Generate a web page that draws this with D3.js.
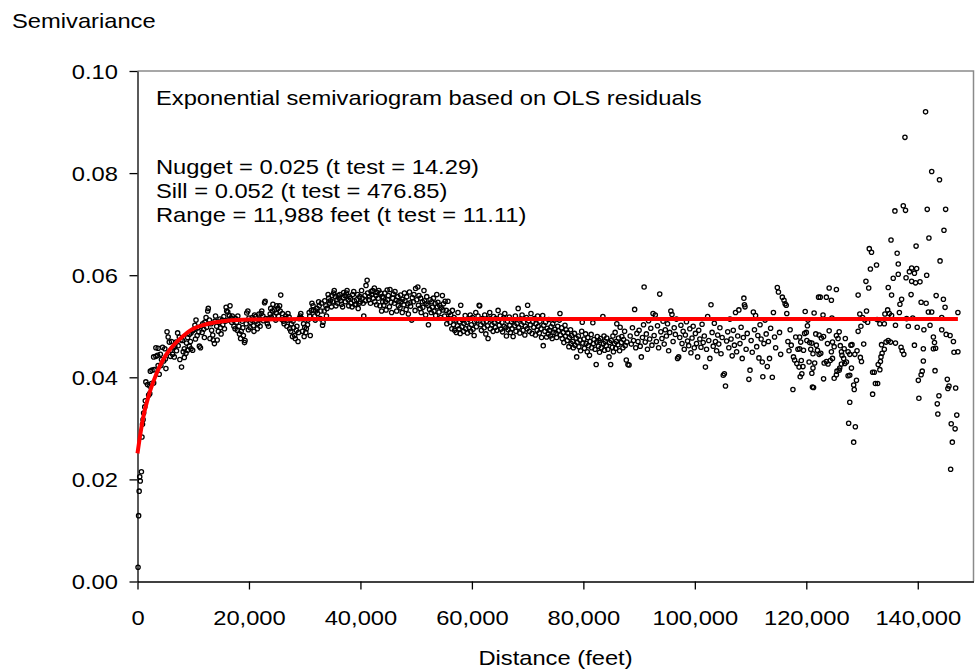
<!DOCTYPE html>
<html>
<head>
<meta charset="utf-8">
<script src="https://cdn.jsdelivr.net/npm/d3@7"></script>
<style>
    body { margin: 0; background: #fff; }
    svg text { font-family: "Liberation Sans", Arial, sans-serif; fill: #000; }
</style>
</head>
<body>
<div id="chart"></div>
<script>
// Empirical semivariogram, [distance in thousand feet, semivariance]
const nearLags = [
    [0.1,.0028],[0.2,.0129],[0.3,.0177],[0.4,.0205],[0.5,.0197],[0.7,.0215],[0.8,.0283],[0.9,.0308],[1.0,.0317],[1.1,.0330],
    [1.3,.0342],[1.4,.0354],[1.5,.0391],[1.8,.0386],[2.0,.0365],[2.2,.0368],[2.2,.0383],[2.3,.0412],[2.5,.0388],[2.6,.0414],
    [2.9,.0389],[2.9,.0440],[3.0,.0415],[3.3,.0441],[3.3,.0458],[3.6,.0443],[3.7,.0423],[3.7,.0457],[3.9,.0406],[4.1,.0445],
    [4.2,.0423],[4.3,.0435],[4.5,.0459],[4.7,.0432],[4.9,.0456],[5.0,.0436],[5.1,.0417],[5.3,.0489],[5.5,.0479],[5.7,.0469],
    [5.9,.0441],[6.0,.0453],[6.1,.0470],[6.3,.0445],[6.4,.0458],[6.6,.0440],[6.7,.0461],[6.9,.0469],[7.0,.0452],[7.2,.0487],
    [7.3,.0462],[7.5,.0479],[7.6,.0435],[7.8,.0473],[7.9,.0420],[8.1,.0472],[8.2,.0450],[8.4,.0456],[8.4,.0439],[8.7,.0447],
    [8.8,.0467],[9.0,.0453],[9.0,.0478],[9.3,.0461],[9.3,.0484],[9.5,.0470],[9.6,.0456],[9.6,.0487],[9.9,.0453],[9.9,.0491]
];
const risingLags = [
    [10.1,.0493],[10.3,.0502],[10.4,.0475],[10.5,.0512],[10.7,.0482],[10.8,.0497],[11.0,.0489],
    [11.1,.0461],[11.3,.0458],[11.4,.0500],[11.6,.0488],[11.7,.0505],[11.9,.0494],[12.0,.0478],
    [12.1,.0508],[12.3,.0517],[12.4,.0498],[12.6,.0530],[12.7,.0535],[12.9,.0512],[13.0,.0476],
    [13.2,.0505],[13.3,.0492],[13.5,.0483],[13.6,.0473],[13.8,.0466],[13.9,.0510],[14.0,.0520],
    [14.2,.0500],[14.3,.0473],[14.5,.0490],[14.6,.0508],[14.8,.0514],[14.9,.0497],[15.0,.0485],
    [15.2,.0512],[15.3,.0503],[15.5,.0519],[15.6,.0495],[15.8,.0510],[15.9,.0537],[16.0,.0530],
    [16.2,.0528],[16.3,.0512],[16.5,.0521],[16.6,.0540],[16.8,.0516],[16.9,.0508],[17.0,.0520],
    [17.2,.0512],[17.3,.0500],[17.5,.0495],[17.6,.0515],[17.8,.0508],[17.9,.0492],[18.0,.0520],
    [18.2,.0500],[18.3,.0485],[18.5,.0476],[18.6,.0490],[18.8,.0510],[18.9,.0497],[19.0,.0482],
    [19.2,.0468],[19.3,.0472],[19.5,.0505],[19.6,.0526],[19.8,.0530],[19.9,.0493],[20.0,.0516],
    [20.2,.0497],[20.3,.0508],[20.5,.0512],[20.6,.0517],[20.8,.0501],[20.9,.0490],[21.0,.0522],
    [21.2,.0519],[21.3,.0510],[21.5,.0495],[21.6,.0505],[21.8,.0524],[21.9,.0513],[22.0,.0500],
    [22.2,.0525],[22.3,.0530],[22.5,.0520],[22.6,.0511],[22.8,.0546],[22.9,.0549],[23.0,.0515],
    [23.2,.0512],[23.3,.0505],[23.5,.0500],[23.6,.0515],[23.8,.0524],[23.9,.0535],[24.0,.0518],
    [24.2,.0530],[24.3,.0543],[24.5,.0520],[24.6,.0532],[24.8,.0512],[24.9,.0526],[25.0,.0540],
    [25.2,.0535],[25.3,.0520],[25.5,.0540],[25.6,.0530],[25.7,.0561],[25.9,.0513],[26.0,.0525],
    [26.2,.0510],[26.3,.0505],[26.5,.0515],[26.6,.0520],[26.8,.0500],[26.9,.0512],[27.0,.0525],
    [27.2,.0518],[27.3,.0495],[27.5,.0490],[27.6,.0505],[27.8,.0480],[27.9,.0510],[28.0,.0497],
    [28.2,.0482],[28.3,.0476],[28.5,.0492],[28.6,.0500],[28.8,.0470],[28.9,.0488],[29.0,.0515],
    [29.2,.0520],[29.3,.0525],[29.5,.0515],[29.6,.0490],[29.8,.0505],[29.9,.0480],[30.0,.0498],
    [30.2,.0488],[30.3,.0495],[30.5,.0503],[30.6,.0512],[30.8,.0527],[30.9,.0520],[31.0,.0482],
    [31.2,.0531],[31.3,.0545],[31.5,.0540],[31.6,.0532],[31.8,.0520],[31.9,.0512],[32.0,.0530],
    [32.2,.0535],[32.3,.0525],[32.5,.0548],[32.6,.0540],[32.8,.0515],[32.9,.0530],[33.0,.0545],
    [33.2,.0502],[33.3,.0508],[33.5,.0530],[33.6,.0550],[33.8,.0540],[33.9,.0520],[34.0,.0535],
    [34.2,.0562],[34.3,.0555],[34.5,.0545],[34.6,.0550],[34.8,.0538],[34.9,.0560],[35.0,.0548],
    [35.2,.0565],[35.3,.0570],[35.5,.0558],[35.6,.0540],[35.8,.0552],[35.9,.0545],[36.0,.0560],
    [36.2,.0555],[36.3,.0562],[36.5,.0550],[36.6,.0543],[36.8,.0538],[36.9,.0556],[37.0,.0566],
    [37.2,.0560],[37.3,.0548],[37.5,.0565],[37.6,.0570],[37.8,.0552],[37.9,.0540],[38.0,.0558],
    [38.2,.0555],[38.3,.0545],[38.5,.0538],[38.6,.0562],[38.8,.0568],[38.9,.0550],[39.0,.0542],
    [39.2,.0543],[39.3,.0552],[39.5,.0562],[39.6,.0535],[39.8,.0545],[39.9,.0558],[40.0,.0548],
    [40.2,.0570],[40.3,.0555],[40.5,.0545],[40.6,.0520],[40.8,.0560],[40.9,.0550],[41.0,.0580],
    [41.2,.0590],[41.3,.0565],[41.5,.0552],[41.6,.0558],[41.8,.0545],[41.9,.0568],[42.0,.0562],
    [42.2,.0570],[42.3,.0555],[42.5,.0575],[42.6,.0548],[42.8,.0560],[42.9,.0542],[43.0,.0566],
    [43.2,.0555],[43.3,.0570],[43.5,.0540],[43.6,.0565],[43.8,.0530],[43.9,.0558],[44.0,.0548]
];
const plateauLags = [
    [44.1,.0556],[44.2,.0541],[44.4,.0565],[44.5,.0548],[44.6,.0532],[44.8,.0571],[44.9,.0552],
    [45.0,.0560],[45.2,.0538],[45.3,.0572],[45.5,.0547],[45.6,.0527],[45.8,.0555],[45.9,.0563],
    [46.1,.0545],[46.2,.0568],[46.4,.0551],[46.5,.0530],[46.7,.0558],[46.8,.0540],[46.9,.0549],
    [47.1,.0536],[47.2,.0561],[47.3,.0548],[47.5,.0527],[47.6,.0553],[47.8,.0542],[47.9,.0565],
    [48.0,.0550],[48.2,.0533],[48.3,.0558],[48.5,.0544],[48.6,.0524],[48.8,.0567],[48.9,.0546],
    [49.0,.0539],[49.2,.0512],[49.3,.0556],[49.5,.0548],[49.6,.0562],[49.8,.0531],[49.9,.0574],
    [50.1,.0552],[50.3,.0577],[50.4,.0541],[50.5,.0560],[50.7,.0535],[50.8,.0555],[50.9,.0527],
    [51.1,.0548],[51.2,.0537],[51.4,.0570],[51.5,.0550],[51.7,.0522],[51.8,.0544],[51.9,.0558],
    [52.1,.0541],[52.2,.0503],[52.4,.0533],[52.5,.0552],[52.7,.0527],[52.8,.0548],[52.9,.0537],
    [53.1,.0555],[53.2,.0530],[53.4,.0545],[53.5,.0521],[53.7,.0562],[53.8,.0538],[53.9,.0547],
    [54.1,.0528],[54.2,.0541],[54.4,.0517],[54.5,.0536],[54.7,.0560],[54.8,.0532],[54.9,.0544],
    [55.1,.0520],[55.2,.0549],[55.4,.0531],[55.5,.0505],[55.7,.0549],[55.8,.0515],[55.9,.0527],
    [56.1,.0508],[56.2,.0522],[56.4,.0495],[56.5,.0531],[56.7,.0503],[56.8,.0517],[56.9,.0492],
    [57.1,.0512],[57.2,.0488],[57.4,.0501],[57.5,.0527],[57.7,.0495],[57.8,.0509],[57.9,.0486],
    [58.0,.0541],[58.2,.0499],[58.3,.0512],[58.5,.0490],[58.6,.0506],[58.8,.0521],[58.9,.0495],
    [59.1,.0508],[59.2,.0487],[59.4,.0514],[59.5,.0497],[59.7,.0522],[59.8,.0490],[59.9,.0503],
    [60.1,.0517],[60.2,.0494],[60.4,.0482],[60.5,.0509],[60.7,.0527],[60.8,.0499],[60.9,.0511],
    [61.1,.0520],[61.3,.0541],[61.4,.0540],[61.6,.0503],[61.7,.0492],[61.9,.0515],[62.0,.0508],
    [62.2,.0497],[62.3,.0522],[62.5,.0485],[62.6,.0510],[62.8,.0501],[62.9,.0476],[63.0,.0516],
    [63.2,.0527],[63.3,.0495],[63.5,.0512],[63.6,.0503],[63.8,.0490],[63.9,.0519],[64.0,.0507],
    [64.2,.0498],[64.3,.0515],[64.5,.0492],[64.7,.0531],[64.8,.0511],[64.9,.0502],
    [65.1,.0520],[65.2,.0494],[65.4,.0508],[65.5,.0489],[65.7,.0516],[65.8,.0500],[65.9,.0525],
    [66.1,.0497],[66.2,.0481],[66.4,.0510],[66.5,.0493],[66.7,.0518],[66.8,.0502],[66.9,.0488],
    [67.1,.0509],[67.2,.0495],[67.4,.0480],[67.5,.0512],[67.7,.0501],[67.8,.0520],[67.9,.0490],
    [68.1,.0505],[68.3,.0535],[68.4,.0498],[68.6,.0487],[68.7,.0514],[68.9,.0503],[69.0,.0522],
    [69.2,.0492],[69.3,.0508],[69.5,.0483],[69.6,.0500],[69.8,.0517],[69.9,.0495],
    [70.0,.0541],[70.2,.0511],[70.3,.0490],[70.5,.0503],[70.6,.0525],[70.8,.0486],[70.9,.0509],
    [71.1,.0498],[71.2,.0515],[71.4,.0483],[71.5,.0505],[71.7,.0492],[71.8,.0520],[71.9,.0500],
    [72.1,.0487],[72.2,.0510],[72.4,.0495],[72.5,.0478],[72.7,.0521],[72.8,.0462],[72.9,.0502],
    [73.1,.0490],[73.2,.0508],[73.4,.0479],[73.5,.0496],[73.7,.0485],[73.8,.0513],[73.9,.0492],
    [74.1,.0481],[74.2,.0499],[74.4,.0476],[74.5,.0505],[74.7,.0488],[74.8,.0512],[74.9,.0494],
    [75.1,.0486],[75.2,.0478],[75.4,.0500],[75.5,.0491],[75.7,.0512],[75.8,.0525],[75.9,.0483],
    [76.1,.0497],[76.2,.0476],[76.4,.0488],[76.5,.0468],[76.7,.0502],[76.8,.0481],[76.9,.0493],
    [77.1,.0472],[77.2,.0487],[77.4,.0460],[77.5,.0478],[77.7,.0493],[77.8,.0466],[77.9,.0482],
    [78.1,.0470],[78.2,.0458],[78.4,.0486],[78.5,.0463],[78.7,.0477],[78.8,.0440],[78.9,.0468],
    [79.1,.0481],[79.2,.0460],[79.4,.0473],[79.5,.0452],[79.7,.0490],[79.8,.0508],[79.9,.0467],
    [80.1,.0475],[80.2,.0457],[80.4,.0485],[80.5,.0466],[80.7,.0450],[80.8,.0478],[80.9,.0462],
    [81.1,.0443],[81.2,.0470],[81.4,.0484],[81.5,.0458],[81.7,.0507],[81.8,.0466],[81.9,.0474],
    [82.1,.0455],[82.3,.0425],[82.4,.0469],[82.5,.0480],[82.7,.0461],[82.8,.0472],[82.9,.0449],
    [83.1,.0476],[83.2,.0458],[83.5,.0519],[83.6,.0466],[83.7,.0481],[83.8,.0453],[83.9,.0470],
    [84.1,.0462],[84.2,.0477],[84.4,.0455],[84.6,.0440],[84.7,.0468],[84.9,.0425],[85.0,.0472],
    [85.2,.0459],[85.3,.0481],[85.4,.0450],[85.6,.0466],[85.7,.0488],[85.8,.0457],[85.9,.0470],
    [86.0,.0505],[86.2,.0464],[86.3,.0477],[86.5,.0452],[86.6,.0498],[86.8,.0468],[86.9,.0480],
    [87.1,.0458],[87.2,.0474],[87.4,.0490],[87.5,.0462],[87.7,.0434],[87.8,.0469],[88.0,.0425]
];
const farLags = [
    [88.2,.0424],[88.4,.0481],[88.6,.0465],[88.8,.0497],[89.0,.0472],[89.2,.0533],[89.4,.0458],[89.6,.0486],[89.8,.0470],
    [90.0,.0492],[90.2,.0461],[90.4,.0440],[90.6,.0478],[90.8,.0503],[90.9,.0577],[91.1,.0469],[91.3,.0485],[91.5,.0455],[91.7,.0511],[91.9,.0475],
    [92.1,.0496],[92.3,.0463],[92.5,.0525],[92.7,.0482],[92.9,.0522],[93.1,.0470],[93.3,.0501],[93.5,.0458],[93.7,.0563],[93.9,.0489],
    [94.1,.0476],[94.3,.0510],[94.5,.0465],[94.7,.0493],[94.9,.0481],[95.1,.0505],[95.3,.0452],[95.5,.0488],[95.7,.0530],[95.9,.0523],
    [96.1,.0470],[96.3,.0497],[96.5,.0484],[96.7,.0514],[96.9,.0437],[97.1,.0440],[97.3,.0478],[97.5,.0502],[97.7,.0466],[97.9,.0490],
    [98.1,.0455],[98.3,.0483],[98.5,.0509],[98.7,.0471],[98.9,.0462],[99.1,.0495],[99.3,.0448],[99.5,.0477],[99.7,.0500],[99.9,.0458],
    [100.1,.0486],[100.3,.0466],[100.5,.0440],[100.7,.0492],[100.9,.0475],[101.1,.0459],[101.3,.0504],[101.5,.0468],[101.7,.0481],[101.9,.0420],
    [102.1,.0455],[102.3,.0519],[102.5,.0472],[102.7,.0437],[102.9,.0542],[103.1,.0488],[103.3,.0461],[103.5,.0506],[103.7,.0470],[103.9,.0452],
    [104.1,.0483],[104.3,.0465],[104.5,.0497],[104.7,.0446],[104.9,.0478],[105.1,.0404],[105.3,.0407],[105.5,.0383],[105.7,.0471],[105.9,.0489],
    [106.1,.0458],[106.3,.0514],[106.5,.0475],[106.7,.0442],[106.9,.0492],[107.1,.0463],[107.3,.0527],[107.5,.0450],[107.7,.0481],[107.9,.0532],
    [108.1,.0466],[108.3,.0498],[108.5,.0437],[108.7,.0478],[108.8,.0555],[108.9,.0542],[109.0,.0538],[109.2,.0455],[109.4,.0486],[109.7,.0396],[109.9,.0414],
    [110.1,.0472],[110.3,.0449],[110.5,.0528],[110.7,.0493],[110.9,.0521],[111.1,.0460],[111.3,.0482],[111.5,.0438],[111.7,.0503],[111.9,.0475],
    [112.1,.0430],[112.2,.0401],[112.4,.0466],[112.6,.0512],[112.8,.0485],[113.0,.0421],[113.2,.0470],[113.4,.0437],[113.6,.0496],[113.9,.0400],
    [114.1,.0527],[114.3,.0479],[114.5,.0458],[114.8,.0576],[115.0,.0567],[115.2,.0488],[115.4,.0445],[115.7,.0557],[116.0,.0551],[116.2,.0544],[116.4,.0541],[116.5,.0525],
    [116.7,.0470],[116.9,.0452],[117.1,.0493],[117.3,.0463],[117.6,.0376],[117.7,.0440],[117.9,.0434],[118.1,.0479],[118.3,.0427],[118.5,.0455],
    [118.7,.0420],[118.8,.0479],[118.8,.0456],[118.9,.0401],[119.0,.0469],[119.1,.0433],[119.2,.0407],[119.4,.0421],[119.5,.0453],[119.7,.0486],
    [119.8,.0529],[120.0,.0488],[120.1,.0472],[120.2,.0501],[120.3,.0512],[120.5,.0430],[120.6,.0468],[120.8,.0455],[121.0,.0467],[121.0,.0408],
    [121.1,.0381],[121.2,.0446],[121.2,.0418],[121.3,.0380],[121.4,.0526],[121.5,.0428],[121.7,.0485],[121.8,.0463],[122.0,.0453],[122.2,.0557],
    [122.3,.0483],[122.3,.0445]
];
const tailLags = [
    [122.5,.0557],[122.6,.0447],[122.7,.0477],[123.0,.0522],[123.1,.0480],[123.1,.0397],[123.2,.0428],[123.6,.0431],[123.6,.0557],[123.8,.0466],
    [123.9,.0426],[124.1,.0491],[124.1,.0575],[124.3,.0433],[124.5,.0551],[124.5,.0450],[124.6,.0516],[124.7,.0437],[124.7,.0469],[125.0,.0460],
    [125.0,.0398],[125.4,.0482],[125.4,.0405],[125.4,.0572],[125.5,.0412],[125.7,.0476],[125.9,.0489],[125.9,.0414],[126.0,.0418],[126.1,.0462],
    [126.3,.0450],[126.3,.0426],[126.4,.0443],[126.7,.0437],[126.8,.0456],[126.9,.0427],[127.0,.0476],[127.2,.0430],[127.5,.0450],[127.5,.0403],
    [127.6,.0310],[127.8,.0445],[127.8,.0404],[127.8,.0351],[128.0,.0463],[128.1,.0418],[128.2,.0464],[128.5,.0385],[128.5,.0273],[128.6,.0376],
    [128.7,.0445],[128.8,.0303],[129.0,.0394],[129.1,.0452],[129.3,.0490],[129.3,.0561],[129.6,.0524],[129.7,.0439],[129.8,.0500],[129.9,.0431],
    [130.1,.0517],[130.3,.0465],[130.5,.0512],[130.7,.0588],[130.8,.0530],[131.0,.0508],[131.2,.0575],[131.3,.0652],[131.5,.0612],[131.7,.0645],
    [131.9,.0367],[131.9,.0410],[132.2,.0410],[132.4,.0388],[132.6,.0620],[132.7,.0513],[132.8,.0388],[132.9,.0425],[133.2,.0415],[133.2,.0505],
    [133.3,.0431],[133.4,.0440],[133.5,.0464],[133.6,.0447],[134.0,.0455],[134.0,.0505],[134.1,.0524],[134.3,.0469],[134.6,.0532],[134.7,.0472],
    [134.7,.0576],[134.9,.0525],[135.1,.0469],[135.2,.0669],[135.3,.0521],[135.3,.0561],[135.6,.0594],[135.9,.0726],[136.0,.0467],[136.0,.0502],
    [136.3,.0643],[136.5,.0602],[136.5,.0622],[136.7,.0527],[136.8,.0543],[137.0,.0459],[137.1,.0553],[137.2,.0452],[137.4,.0736],[137.5,.0445],
    [137.7,.0870],[137.8,.0727],[137.9,.0595],[138.0,.0515],[138.3,.0500],[138.5,.0607],[138.8,.0562],[138.9,.0614],[138.9,.0588],[139.1,.0516],
    [139.4,.0604],[139.4,.0463],[139.6,.0585],[139.7,.0657],[139.8,.0613],[139.9,.0498],[140.1,.0394],[140.2,.0359],[140.4,.0587],[140.6,.0547],
    [140.6,.0405],[140.8,.0412],[141.0,.0432],[141.0,.0456],[141.1,.0493],[141.4,.0920],[141.5,.0545],[141.6,.0600],[141.7,.0729],[141.9,.0528],
    [142.0,.0673],[142.2,.0502],[142.5,.0803],[142.5,.0528],[142.8,.0479],[142.8,.0456],[143.0,.0468],[143.1,.0413],[143.2,.0457],[143.3,.0560],
    [143.5,.0348],[143.6,.0328],[143.8,.0364],[143.9,.0787],[144.0,.0628],[144.3,.0493],[144.3,.0517],[144.6,.0553],[144.7,.0688],[144.9,.0537],
    [145.0,.0729],[145.1,.0484],[145.3,.0396],[145.4,.0378],[145.6,.0383],[145.8,.0482],[145.9,.0220],[146.0,.0309],[146.2,.0273],[146.4,.0470],
    [146.5,.0449],[146.7,.0299],[146.8,.0379],[147.0,.0326],[147.2,.0450],[147.2,.0527]
];

// Fitted exponential model
const modelDistanceKft = [0, 0.5, 1, 2, 3, 4, 5, 6, 7, 8, 9, 10, 12, 14, 16, 20, 30, 147.2];
const modelGamma = [.0251, .0288, .0320, .0364, .0396, .0422, .0442, .0457, .0469, .0479, .0488, .0495, .0503, .0508, .0511, .0513, .0514, .0514];

const xTicks = [0, 20000, 40000, 60000, 80000, 100000, 120000, 140000];
const yTicks = [0, 0.02, 0.04, 0.06, 0.08, 0.10];
const noteLines = [
    'Exponential semivariogram based on OLS residuals',
    'Nugget = 0.025 (t test = 14.29)',
    'Sill = 0.052 (t test = 476.85)',
    'Range = 11,988 feet (t test = 11.11)'
];

const width = 976, height = 671;
const margin = { top: 71, right: 2.5, bottom: 89.5, left: 137.5 };
const fontSize = 21;
const stretch = 1.13; // the original lettering is a bit wide

const points = [].concat(nearLags, risingLags, plateauLags, farLags, tailLags)
    .map(([k, g]) => ({ dist: k * 1000, gamma: g }));
const model = modelDistanceKft.map((k, i) => ({ dist: k * 1000, gamma: modelGamma[i] }));

const svg = d3.select('#chart').append('svg')
    .attr('width', width)
    .attr('height', height);

const x = d3.scaleLinear()
    .domain([0, 150000])
    .range([margin.left, width - margin.right]);
const y = d3.scaleLinear()
    .domain([0, 0.10])
    .range([height - margin.bottom, margin.top]);

// frame (top + right in grey)
svg.append('path')
    .attr('d', `M${x(0)},${y(0.10)}H${x(150000)}V${y(0)}`)
    .attr('fill', 'none')
    .attr('stroke', '#8a8a8a')
    .attr('stroke-width', 1.5);

// X axis
const xAxis = svg.append('g')
    .attr('transform', `translate(0,${y(0)})`)
    .call(d3.axisBottom(x).tickValues(xTicks).tickFormat(d3.format(',')).tickSize(8).tickSizeOuter(0));
xAxis.selectAll('text')
    .attr('y', null).attr('dy', null)
    .attr('transform', `translate(0,43.5) scale(${stretch},1)`);

// Y axis
const yAxis = svg.append('g')
    .attr('transform', `translate(${x(0)},0)`)
    .call(d3.axisLeft(y).tickValues(yTicks).tickFormat(d3.format('.2f')).tickSize(8).tickSizeOuter(0));
yAxis.selectAll('text')
    .attr('x', null)
    .attr('dy', '0.34em')
    .attr('transform', `translate(-19.5,0) scale(${stretch},1)`);

svg.selectAll('.domain, .tick line')
    .attr('stroke', '#000')
    .attr('stroke-width', 1.3);
svg.selectAll('.tick text')
    .style('font-size', fontSize + 'px')
    .attr('font-family', null);

// points
svg.append('g')
    .selectAll('circle')
    .data(points)
    .enter()
    .append('circle')
    .attr('cx', d => x(d.dist))
    .attr('cy', d => y(d.gamma))
    .attr('r', 2.15)
    .attr('fill', 'none')
    .attr('stroke', '#000')
    .attr('stroke-width', 1.3);

// model curve on top
const line = d3.line()
    .x(d => x(d.dist))
    .y(d => y(d.gamma))
    .curve(d3.curveMonotoneX);
svg.append('path')
    .datum(model)
    .attr('d', line)
    .attr('fill', 'none')
    .attr('stroke', '#ff0000')
    .attr('stroke-width', 4);

// titles
const label = (txt, tx, ty, anchor) => svg.append('text')
    .attr('transform', `translate(${tx},${ty}) scale(${stretch},1)`)
    .attr('text-anchor', anchor || 'start')
    .style('font-size', fontSize + 'px')
    .text(txt);

label('Semivariance', 12, 28);
label('Distance (feet)', (x(0) + x(150000)) / 2, 665, 'middle');

const noteY = [105, 173.5, 197.5, 221.5];
noteLines.forEach((t, i) => label(t, 156, noteY[i]));
</script>
</body>
</html>
